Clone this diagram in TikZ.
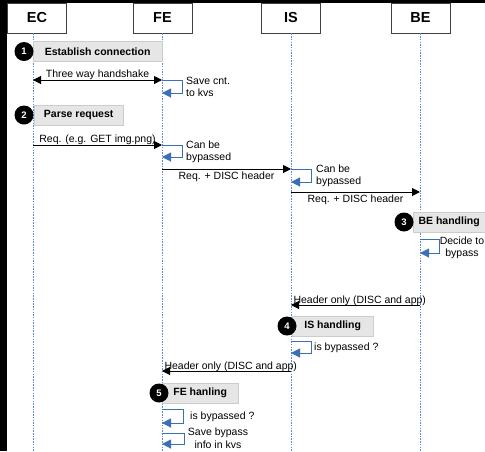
\documentclass[tikz,border=0pt]{standalone}
\usepackage{fontspec}
\setmainfont{Liberation Sans}
\usepackage{xcolor}
\usetikzlibrary{arrows.meta}

\definecolor{lifeblue}{HTML}{5B8BD0}
\definecolor{selfblue}{HTML}{3C70B6}
\definecolor{stepgray}{HTML}{E6E6E6}
\definecolor{stepline}{HTML}{CCCCCC}
\newcommand{\msgfont}{\fontsize{10.5}{12.5}\selectfont}

\tikzset{
  actor/.style={draw=black!75, fill=white, line width=0.8pt, minimum width=59pt,
    minimum height=30pt, inner sep=0pt, font=\fontsize{14.5}{16}\selectfont\bfseries},
  life/.style={draw=lifeblue, line width=0.8pt, dash pattern=on 1.5pt off 1.2pt},
  msg/.style={line width=1pt, -{Triangle[length=8pt,width=8pt]}},
  msgboth/.style={line width=1pt, {Triangle[length=8pt,width=8pt]}-{Triangle[length=8pt,width=8pt]}},
  selfmsg/.style={draw=selfblue, line width=1pt, -{Triangle[length=9pt,width=9pt]}},
  stepbox/.style={draw=stepline, fill=stepgray, minimum height=20pt, inner sep=0pt,
    anchor=west, font=\msgfont\bfseries},
  stepnum/.style={circle, fill=black, text=white, minimum size=19pt, inner sep=0pt,
    font=\fontsize{9.5}{10}\selectfont\bfseries},
  note/.style={font=\msgfont, inner sep=0pt}
}

\begin{document}
\begin{tikzpicture}[x=1pt,y=-1pt]
    \useasboundingbox (0,0) rectangle (485,451);
    \clip (0,0) rectangle (485,451);
    \fill[white] (0,0) rectangle (485,451);
    % dark screen edges
    \fill[black] (0,0) rectangle (7,451);
    \fill[black] (0,0) rectangle (485,3);

    % actors and lifelines
    \node[actor] (ec) at (37,18) {EC};
    \node[actor] (fe) at (162.5,18) {FE};
    \node[actor] (is) at (291,18) {IS};
    \node[actor] (be) at (420.5,18) {BE};
    \foreach \a/\x in {ec/33,fe/162,is/291,be/420}
      \coordinate (\a-end) at (\x,451);
    \foreach \a in {ec,fe,is,be}
      \draw[life] (\a-end |- \a.south) -- (\a-end);

    % 1: connection
    \node[stepbox, minimum width=129pt] (st1) at (33,51.5) {Establish connection};
    \node[stepnum] (c1) at (24,51.5) {1};
    \coordinate (ec-hs) at (33,80);
    \coordinate (fe-hs) at (162,80);
    \coordinate (fe-kvs) at (162,93);
    \draw[msgboth] (ec-hs) -- node[note, anchor=base, yshift=3pt] {Three way handshake} (fe-hs);
    \draw[selfmsg] (fe-hs) -- ++(20,0) |- (fe-kvs);
    \node[note, anchor=west, align=left] (save1) at (186,87) {Save cnt.\\to kvs};

    % 2: request
    \node[stepbox, minimum width=89pt] (st2) at (34,115) {Parse request};
    \node[stepnum] (c2) at (24,115) {2};
    \coordinate (ec-req) at (33,145);
    \coordinate (fe-req) at (162,145);
    \coordinate (fe-byp) at (162,157);
    \draw[msg] (ec-req) -- node[note, anchor=base, yshift=2.5pt] {Req. (e.g. GET img.png)} (fe-req);
    \draw[selfmsg] (fe-req) -- ++(20,0) |- (fe-byp);
    \node[note, anchor=west, align=left] (can1) at (186,152) {Can be\\bypassed};

    \coordinate (fe-fwd) at (162,169);
    \coordinate (is-fwd) at (291,169);
    \coordinate (is-byp) at (291,182);
    \draw[msg] (fe-fwd) -- node[note, below=2.5pt] {Req. + DISC header} (is-fwd);
    \draw[selfmsg] (is-fwd) -- ++(20,0) |- (is-byp);
    \node[note, anchor=west, align=left] (can2) at (316,176) {Can be\\bypassed};

    \coordinate (is-fwd2) at (291,192);
    \coordinate (be-fwd) at (420,192);
    \draw[msg] (is-fwd2) -- node[note, below=2.5pt] {Req. + DISC header} (be-fwd);

    % 3: backend
    \node[stepbox, minimum width=72pt] (st3) at (413,222) {BE handling};
    \node[stepnum] (c3) at (404,222) {3};
    \coordinate (be-dec) at (420,239);
    \coordinate (be-decb) at (420,253);
    \draw[selfmsg] (be-dec) -- ++(19,0) |- (be-decb);
    \node[note, align=center] (decide) at (462,248) {Decide to\\bypass};

    \coordinate (be-hdr) at (420,305);
    \coordinate (is-hdr) at (291,305);
    \draw[msg] (be-hdr) -- node[note, at end, anchor=base west, xshift=2pt, yshift=2pt] {Header only (DISC and app)} (is-hdr);

    % 4: intermediate
    \node[stepbox, minimum width=81pt] (st4) at (292,326) {IS handling};
    \node[stepnum] (c4) at (287,326) {4};
    \coordinate (is-chk) at (291,341);
    \coordinate (is-chkb) at (291,353);
    \draw[selfmsg] (is-chk) -- ++(20,0) |- (is-chkb);
    \node[note, anchor=west] (isq1) at (314,348) {is bypassed ?};

    \coordinate (is-hdr2) at (291,371);
    \coordinate (fe-hdr) at (162,371);
    \draw[msg] (is-hdr2) -- node[note, at end, anchor=base west, xshift=2pt, yshift=2pt] {Header only (DISC and app)} (fe-hdr);

    % 5: frontend
    \node[stepbox, minimum width=76pt] (st5) at (162,393) {FE hanling};
    \node[stepnum] (c5) at (159,393) {5};
    \coordinate (fe-chk) at (162,409);
    \coordinate (fe-chkb) at (162,423);
    \draw[selfmsg] (fe-chk) -- ++(21,0) |- (fe-chkb);
    \node[note, anchor=west] (isq2) at (190,417) {is bypassed ?};
    \coordinate (fe-sv) at (162,433);
    \coordinate (fe-svb) at (162,444);
    \draw[selfmsg] (fe-sv) -- ++(22,0) |- (fe-svb);
    \node[note, align=center] (save2) at (218,438) {Save bypass\\info in kvs};
\end{tikzpicture}
\end{document}
